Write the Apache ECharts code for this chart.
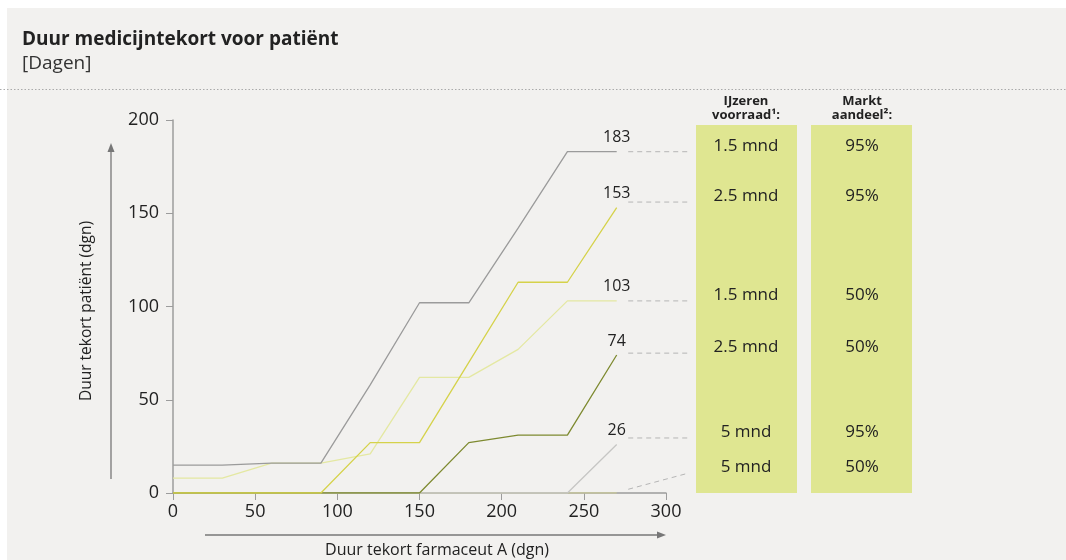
<!DOCTYPE html>
<html>
<head>
<meta charset="utf-8">
<script src="https://cdn.jsdelivr.net/npm/echarts@6/dist/echarts.min.js"></script>
<style>
  html, body { margin: 0; padding: 0; background: #ffffff; }
  #wrap { position: absolute; left: 7px; top: 8px; width: 1059px; height: 552px; background: #f2f1ef; }
  #chart { position: absolute; left: -7px; top: -8px; width: 1066px; height: 560px; }
</style>
</head>
<body>
<div id="wrap"><div id="chart"></div></div>
<script>
const days = [0, 30, 60, 90, 120, 150, 180, 210, 240, 270];
const sGray = [15, 15, 16, 16, 58, 102, 102, 142, 183, 183];
const sYellow = [0, 0, 0, 0, 27, 27, 70, 113, 113, 153];
const sLight = [8, 8, 16, 16, 21, 62, 62, 77, 103, 103];
const sOlive = [0, 0, 0, 0, 0, 0, 27, 31, 31, 74];
const sPale = [0, 0, 0, 0, 0, 0, 0, 0, 0, 26];
const sZero = [0, 0, 0, 0, 0, 0, 0, 0, 0, 0];

// tabel rechts
const voorraad = ["1.5 mnd", "2.5 mnd", "1.5 mnd", "2.5 mnd", "5 mnd", "5 mnd"];
const aandeel = ["95%", "95%", "50%", "50%", "95%", "50%"];
// hoogte van de stippellijnen (in dagen)
const connectStart = [183, 156, 103, 75, 29.5, 2];
const connectEnd = [183, 156, 103, 75, 29.5, 10.5];

const font = "'Open Sans', 'Noto Sans', sans-serif";
const chart = echarts.init(document.getElementById("chart"));

function mk(data, color) {
  return {
    type: "line",
    data: days.map((d, i) => [d, data[i]]),
    symbol: "none",
    lineStyle: { width: 1.3, color: color },
    emphasis: { disabled: true },
  };
}

chart.setOption({
  backgroundColor: "transparent",
  animation: false,
  grid: { left: 173, right: 400, top: 120, bottom: 67 },
  xAxis: {
    type: "value", min: 0, max: 300, interval: 50,
    axisLine: { lineStyle: { color: "#9c9c9c", width: 1.5 } },
    axisTick: { show: true, length: 7, lineStyle: { color: "#9c9c9c" } },
    axisLabel: { color: "#222", fontSize: 18, fontFamily: font, margin: 10 },
    splitLine: { show: false },
  },
  yAxis: {
    type: "value", min: 0, max: 200, interval: 50,
    axisLine: { show: true, lineStyle: { color: "#9c9c9c", width: 1.5 } },
    axisTick: { show: true, length: 7, lineStyle: { color: "#9c9c9c" } },
    axisLabel: { color: "#222", fontSize: 18, fontFamily: font, margin: 14 },
    splitLine: { show: false },
  },
  series: [
    mk(sZero, "#c8c79a"),
    mk(sPale, "#c6c6c4"),
    mk(sLight, "#e4e8a2"),
    mk(sOlive, "#7e8a30"),
    mk(sYellow, "#d5d24a"),
    mk(sGray, "#9b9b9b"),
  ],
});

const px = (x, y) => chart.convertToPixel({ gridIndex: 0 }, [x, y]);
const g = [];

// eindwaarden boven de lijnen
const last = days.length - 1;
[sPale, sLight, sOlive, sYellow, sGray].forEach((s) => {
  const p = px(days[last], s[last]);
  g.push({ type: "text", x: p[0], y: p[1] - 6, style: { text: String(s[last]), font: "16px " + font, fill: "#222", align: "center", verticalAlign: "bottom" } });
});

// titel
g.push({ type: "text", left: 22, top: 30, style: { text: "Duur medicijntekort voor patiënt", font: "bold 19px " + font, fill: "#222" } });
g.push({ type: "text", left: 22, top: 54, style: { text: "[Dagen]", font: "19px " + font, fill: "#333" } });
g.push({ type: "line", shape: { x1: 0, y1: 89.5, x2: 1066, y2: 89.5 }, style: { stroke: "#aaa", lineWidth: 1, lineDash: [1.5, 2] } });

// groene kolommen
g.push({ type: "rect", shape: { x: 696, y: 125, width: 101, height: 368 }, style: { fill: "#dfe691" } });
g.push({ type: "rect", shape: { x: 811, y: 125, width: 101, height: 368 }, style: { fill: "#dfe691" } });
g.push({ type: "text", x: 746, y: 101, style: { text: "IJzeren", font: "bold 13px " + font, fill: "#222", align: "center", verticalAlign: "middle" } });
g.push({ type: "text", x: 746, y: 115, style: { text: "voorraad¹:", font: "bold 13px " + font, fill: "#222", align: "center", verticalAlign: "middle" } });
g.push({ type: "text", x: 862, y: 101, style: { text: "Markt", font: "bold 13px " + font, fill: "#222", align: "center", verticalAlign: "middle" } });
g.push({ type: "text", x: 862, y: 115, style: { text: "aandeel²:", font: "bold 13px " + font, fill: "#222", align: "center", verticalAlign: "middle" } });

connectStart.forEach((v, i) => {
  const a = px(277, v);
  const b = px(313, connectEnd[i]);
  g.push({ type: "line", shape: { x1: a[0], y1: a[1], x2: b[0], y2: b[1] }, style: { stroke: "#b5b5b5", lineWidth: 1, lineDash: [5, 4] } });
  g.push({ type: "text", x: 746, y: b[1] - 6, style: { text: voorraad[i], font: "17px " + font, fill: "#222", align: "center", verticalAlign: "middle" } });
  g.push({ type: "text", x: 862, y: b[1] - 6, style: { text: aandeel[i], font: "17px " + font, fill: "#222", align: "center", verticalAlign: "middle" } });
});

// aspijlen
g.push({ type: "line", shape: { x1: 111, y1: 479, x2: 111, y2: 150 }, style: { stroke: "#777", lineWidth: 1.3 } });
g.push({ type: "polygon", shape: { points: [[111, 143], [107.5, 152], [114.5, 152]] }, style: { fill: "#777" } });
g.push({ type: "line", shape: { x1: 205, y1: 535, x2: 658, y2: 535 }, style: { stroke: "#777", lineWidth: 1.3 } });
g.push({ type: "polygon", shape: { points: [[666, 535], [657, 531.5], [657, 538.5]] }, style: { fill: "#777" } });
g.push({ type: "text", x: 87, y: 311, rotation: Math.PI / 2, style: { text: "Duur tekort patiënt (dgn)", font: "15.5px " + font, fill: "#222", align: "center", verticalAlign: "middle" } });
g.push({ type: "text", x: 437, y: 550, style: { text: "Duur tekort farmaceut A (dgn)", font: "16px " + font, fill: "#222", align: "center", verticalAlign: "middle" } });

chart.setOption({ graphic: g });
</script>
</body>
</html>
